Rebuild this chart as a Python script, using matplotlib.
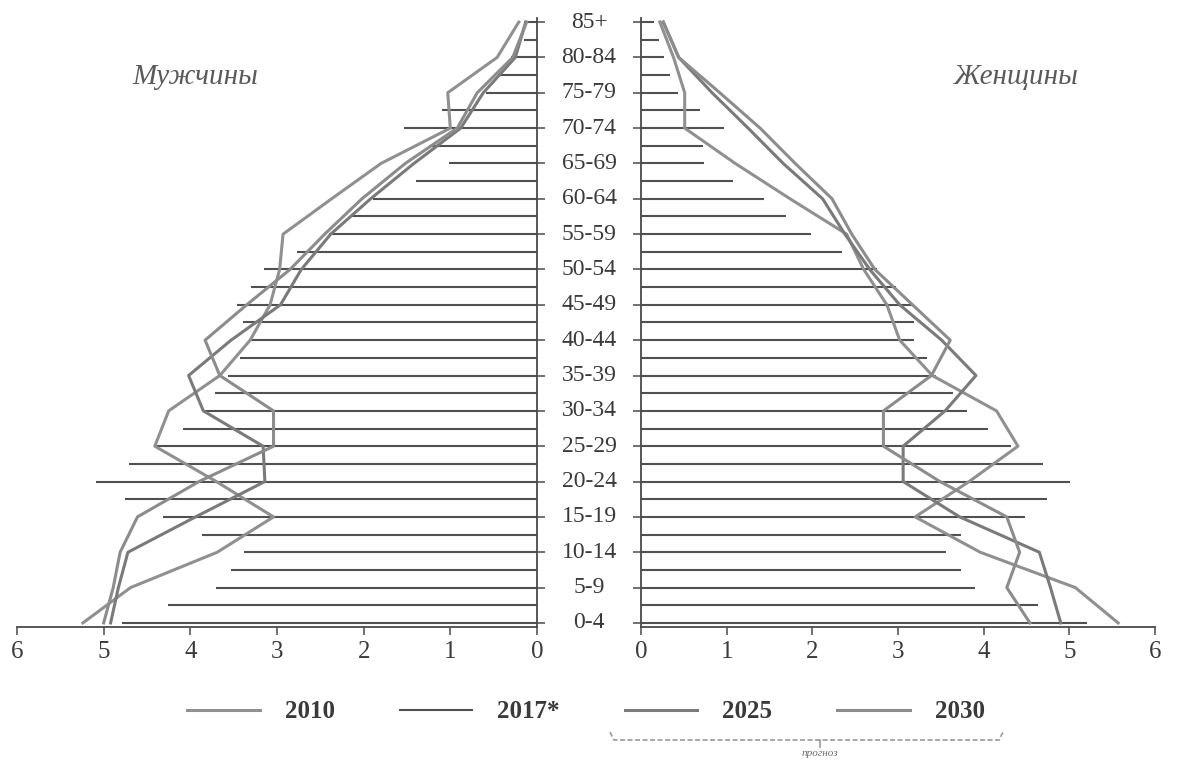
import numpy as np
import matplotlib
matplotlib.use("Agg")
import matplotlib.pyplot as plt
import matplotlib.transforms as mtransforms
from matplotlib.lines import Line2D

plt.rcParams['font.family'] = ['Liberation Serif', 'DejaVu Serif']

# age groups (curves have one point per group)
ages = ['0-4', '5-9', '10-14', '15-19', '20-24', '25-29', '30-34', '35-39', '40-44',
        '45-49', '50-54', '55-59', '60-64', '65-69', '70-74', '75-79', '80-84', '85+']

# men, % (left side)
men_2010 = [5.24, 4.69, 3.69, 3.04, 3.70, 4.41, 4.25, 3.66, 3.31, 3.08, 2.97, 2.93, 2.37, 1.80, 1.00, 1.03, 0.46, 0.21]
men_2025 = [4.92, 4.83, 4.72, 3.94, 3.14, 3.16, 3.85, 4.02, 3.53, 2.96, 2.72, 2.38, 1.92, 1.42, 0.88, 0.62, 0.25, 0.13]
men_2030 = [5.00, 4.89, 4.81, 4.61, 3.90, 3.04, 3.04, 3.66, 3.83, 3.35, 2.85, 2.45, 2.02, 1.52, 0.92, 0.69, 0.28, 0.12]

# women, % (right side)
women_2010 = [5.57, 5.07, 3.96, 3.20, 3.83, 4.40, 4.15, 3.40, 3.02, 2.87, 2.60, 2.40, 1.74, 1.10, 0.51, 0.51, 0.38, 0.22]
women_2025 = [4.90, 4.78, 4.65, 3.72, 3.06, 3.06, 3.55, 3.91, 3.51, 3.02, 2.67, 2.38, 2.12, 1.66, 1.25, 0.83, 0.44, 0.26]
women_2030 = [4.54, 4.27, 4.42, 4.27, 3.49, 2.83, 2.83, 3.39, 3.61, 3.17, 2.73, 2.46, 2.23, 1.80, 1.39, 0.92, 0.44, 0.26]

# 2017* bars, two per age group (bottom to top)
men_2017 = [4.79, 4.26, 3.70, 3.53, 3.38, 3.87, 4.32, 4.75, 5.09, 4.71, 4.41, 4.08, 3.85, 3.72, 3.57,
            3.43, 3.32, 3.39, 3.46, 3.30, 3.15, 2.77, 2.40, 2.13, 1.89, 1.40, 1.01, 1.25, 1.54, 1.10,
            0.59, 0.45, 0.30, 0.15, 0.15]
women_2017 = [5.21, 4.63, 3.90, 3.74, 3.56, 3.73, 4.48, 4.74, 5.01, 4.69, 4.32, 4.05, 3.80, 3.64, 3.44,
              3.34, 3.19, 3.19, 3.19, 2.98, 2.75, 2.35, 1.99, 1.69, 1.44, 1.07, 0.74, 0.72, 0.97, 0.69,
              0.43, 0.34, 0.27, 0.21, 0.15]

ticks_x = [0, 1, 2, 3, 4, 5, 6]

ypos = np.arange(len(ages)) * 2
ybar = np.arange(len(men_2017))

c_text = '#3a3a3a'
c_axis = '#4a4a4a'
c_bar = '#505050'
c_2010 = '#909090'
c_2025 = '#7a7a7a'
c_2030 = '#8c8c8c'

W, H = 1186, 760
fig = plt.figure(figsize=(W / 100, H / 100), dpi=100)
axL = fig.add_axes([17 / W, 1 - 627 / H, (537 - 17) / W, (627 - 18) / H])
axR = fig.add_axes([641 / W, 1 - 627 / H, (1155 - 641) / W, (627 - 18) / H])

for ax in (axL, axR):
    ax.set_ylim(-0.23, 34.23)
    ax.set_facecolor('none')
    ax.spines['top'].set_visible(False)
    for sp in ax.spines.values():
        sp.set_color(c_axis)
        sp.set_linewidth(1.3)
    ax.set_xticks(ticks_x)
    ax.set_xticklabels([str(t) for t in ticks_x])
    ax.tick_params(axis='x', direction='out', length=6, width=1.1, colors=c_axis,
                   labelsize=18, labelcolor=c_text, pad=4)
    ax.set_yticks(ypos)
    ax.set_yticklabels([])
    ax.tick_params(axis='y', direction='out', length=6, width=1.1, colors=c_axis)

axL.set_xlim(6, 0)
axL.spines['left'].set_visible(False)
axL.yaxis.tick_right()
axR.set_xlim(0, 6)
axR.spines['right'].set_visible(False)
axR.yaxis.tick_left()

# 2017* bars
axL.hlines(ybar, 0, men_2017, color=c_bar, lw=1.5)
axR.hlines(ybar, 0, women_2017, color=c_bar, lw=1.5)

# curves
l10, = axL.plot(men_2010, ypos, color=c_2010, lw=2.2)
l25, = axL.plot(men_2025, ypos, color=c_2025, lw=2.2)
l30, = axL.plot(men_2030, ypos, color=c_2030, lw=2.2)
axR.plot(women_2010, ypos, color=c_2010, lw=2.2)
axR.plot(women_2025, ypos, color=c_2025, lw=2.2)
axR.plot(women_2030, ypos, color=c_2030, lw=2.2)

# age labels between the two halves
blend = mtransforms.blended_transform_factory(axR.transAxes, axR.transData)
for y, lab in zip(ypos, ages):
    axR.text(-0.101, y, lab, transform=blend, ha='center', va='center',
             fontsize=17, color=c_text)

fig.text(195 / W, 1 - 77 / H, 'Мужчины', ha='center', va='center', fontsize=21,
         style='italic', color='#5a5a5a')
fig.text(1016 / W, 1 - 77 / H, 'Женщины', ha='center', va='center', fontsize=21,
         style='italic', color='#5a5a5a')

# legend
bar_handle = Line2D([], [], color=c_bar, lw=1.5)
leg = fig.legend([l10, bar_handle, l25, l30], ['2010', '2017*', '2025', '2030'],
                 loc='center', bbox_to_anchor=(0.494, 1 - 712 / H), ncol=4, frameon=False,
                 handlelength=2.9, handletextpad=1.0, columnspacing=2.6,
                 prop={'family': 'Liberation Serif', 'weight': 'bold', 'size': 18})
for t in leg.get_texts():
    t.set_color(c_text)

# brace under the forecast years
bx0, bx1, bm, by = 610 / W, 1003 / W, 820 / W, 1 - 740 / H
brace = dict(transform=fig.transFigure, color='#9a9a9a', lw=1.2)
fig.add_artist(Line2D([bx0, bx0 + 4 / W, bx1 - 4 / W, bx1],
                      [by + 8 / H, by, by, by + 8 / H], ls=(0, (3, 1.5)), **brace))
fig.add_artist(Line2D([bm, bm], [by, by - 7 / H], **brace))
fig.text(bm, 1 - 754 / H, 'прогноз', ha='center', va='center', fontsize=8,
         style='italic', color='#6a6a6a')

fig.savefig('out.png', dpi=100)
